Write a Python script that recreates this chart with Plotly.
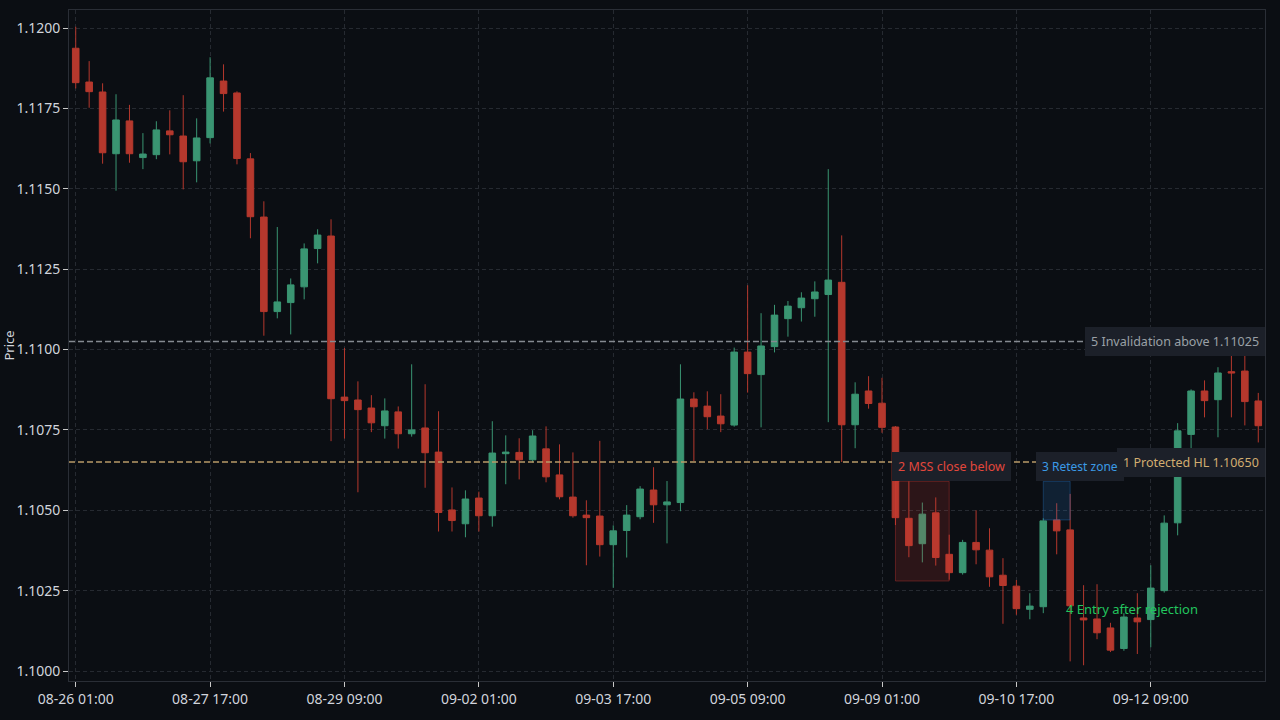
import plotly.graph_objects as go

# ---- data -----------------------------------------------------------------
days = ["08-26", "08-27", "08-28", "08-29", "08-30",
        "09-02", "09-03", "09-04", "09-05", "09-06",
        "09-09", "09-10", "09-11", "09-12", "09-13"]
hours = ["01:00", "05:00", "09:00", "13:00", "17:00", "21:00"]
times = [f"{d} {h}" for d in days for h in hours][:89]

opens = [1.11937, 1.11832, 1.11801, 1.11609, 1.11711, 1.11597, 1.11606, 1.11680, 1.11664, 1.11587,
         1.11659, 1.11835, 1.11798, 1.11593, 1.11412, 1.11118, 1.11146, 1.11195, 1.11314, 1.11353,
         1.10852, 1.10843, 1.10818, 1.10763, 1.10806, 1.10738, 1.10756, 1.10681, 1.10501, 1.10458,
         1.10538, 1.10483, 1.10676, 1.10680, 1.10657, 1.10691, 1.10610, 1.10541, 1.10485, 1.10482,
         1.10393, 1.10437, 1.10480, 1.10563, 1.10517, 1.10524, 1.10846, 1.10824, 1.10793, 1.10765,
         1.10992, 1.10922, 1.11009, 1.11096, 1.11130, 1.11158, 1.11171, 1.11209, 1.10766, 1.10871,
         1.10833, 1.10759, 1.10475, 1.10396, 1.10492, 1.10363, 1.10306, 1.10400, 1.10376, 1.10298,
         1.10264, 1.10192, 1.10200, 1.10470, 1.10439, 1.10165, 1.10162, 1.10134, 1.10070, 1.10165,
         1.10160, 1.10250, 1.10461, 1.10736, 1.10871, 1.10844, 1.10931, 1.10933, 1.10840]
highs = [1.12004, 1.11897, 1.11828, 1.11794, 1.11761, 1.11673, 1.11710, 1.11744, 1.11791, 1.11719,
         1.11909, 1.11887, 1.11803, 1.11611, 1.11461, 1.11381, 1.11221, 1.11330, 1.11374, 1.11405,
         1.11005, 1.10901, 1.10858, 1.10848, 1.10823, 1.10954, 1.10892, 1.10808, 1.10571, 1.10562,
         1.10558, 1.10777, 1.10733, 1.10724, 1.10749, 1.10761, 1.10705, 1.10680, 1.10531, 1.10716,
         1.10453, 1.10516, 1.10575, 1.10634, 1.10591, 1.10954, 1.10867, 1.10870, 1.10861, 1.11006,
         1.11200, 1.11113, 1.11139, 1.11151, 1.11178, 1.11212, 1.11561, 1.11355, 1.10898, 1.10917,
         1.10912, 1.10762, 1.10590, 1.10524, 1.10540, 1.10424, 1.10408, 1.10500, 1.10444, 1.10351,
         1.10283, 1.10242, 1.10475, 1.10522, 1.10551, 1.10267, 1.10270, 1.10150, 1.10180, 1.10242,
         1.10329, 1.10484, 1.10771, 1.10876, 1.10904, 1.10945, 1.11000, 1.10995, 1.10865]
lows = [1.11812, 1.11752, 1.11578, 1.11494, 1.11581, 1.11561, 1.11592, 1.11607, 1.11498, 1.11520,
        1.11641, 1.11740, 1.11576, 1.11346, 1.11043, 1.11097, 1.11047, 1.11156, 1.11268, 1.10715,
        1.10723, 1.10556, 1.10743, 1.10723, 1.10692, 1.10729, 1.10570, 1.10434, 1.10434, 1.10416,
        1.10434, 1.10449, 1.10581, 1.10596, 1.10649, 1.10587, 1.10534, 1.10477, 1.10329, 1.10356,
        1.10259, 1.10353, 1.10472, 1.10461, 1.10397, 1.10497, 1.10653, 1.10752, 1.10743, 1.10760,
        1.10866, 1.10758, 1.10991, 1.11040, 1.11087, 1.11102, 1.10774, 1.10650, 1.10693, 1.10816,
        1.10741, 1.10454, 1.10354, 1.10338, 1.10328, 1.10284, 1.10300, 1.10332, 1.10262, 1.10147,
        1.10175, 1.10161, 1.10180, 1.10363, 1.10030, 1.10018, 1.10099, 1.10059, 1.10063, 1.10053,
        1.10074, 1.10244, 1.10422, 1.10690, 1.10789, 1.10727, 1.10789, 1.10764, 1.10711]
closes = [1.11830, 1.11802, 1.11612, 1.11714, 1.11609, 1.11608, 1.11683, 1.11668, 1.11584, 1.11658,
          1.11845, 1.11796, 1.11594, 1.11413, 1.11118, 1.11148, 1.11201, 1.11313, 1.11356, 1.10847,
          1.10841, 1.10813, 1.10772, 1.10809, 1.10738, 1.10750, 1.10679, 1.10493, 1.10468, 1.10535,
          1.10483, 1.10678, 1.10681, 1.10657, 1.10731, 1.10604, 1.10542, 1.10483, 1.10477, 1.10393,
          1.10436, 1.10485, 1.10566, 1.10517, 1.10526, 1.10846, 1.10822, 1.10791, 1.10769, 1.10992,
          1.10925, 1.11011, 1.11107, 1.11135, 1.11160, 1.11179, 1.11216, 1.10766, 1.10861, 1.10832,
          1.10758, 1.10477, 1.10390, 1.10488, 1.10353, 1.10306, 1.10400, 1.10377, 1.10293, 1.10266,
          1.10194, 1.10202, 1.10467, 1.10436, 1.10203, 1.10159, 1.10119, 1.10065, 1.10168, 1.10153,
          1.10258, 1.10460, 1.10747, 1.10871, 1.10841, 1.10927, 1.10927, 1.10838, 1.10763]

protected_hl = 1.10650
invalidation = 1.11025
mss_zone = (61, 65, 1.1028, 1.1059)      # candle index from/to, price low/high
retest_zone = (72, 74, 1.1047, 1.1059)
entry_point = (76.4, 1.1018)

# ---- style ----------------------------------------------------------------
BG = "#0b0e13"
GRID = "#262a31"
AXLINE = "#2a2e36"
TXT = "#d1d4dc"
GREEN = "#3a9572"
RED = "#b5382d"
FONT = "Noto Sans"

fig = go.Figure(go.Candlestick(
    x=times, open=opens, high=highs, low=lows, close=closes,
    increasing=dict(line=dict(color=GREEN, width=1), fillcolor=GREEN),
    decreasing=dict(line=dict(color=RED, width=1), fillcolor=RED),
    showlegend=False,
))

# level lines
fig.add_shape(type="line", xref="paper", x0=0, x1=1, y0=invalidation, y1=invalidation,
              line=dict(color="#858a91", width=1.6, dash="6px,3px"), layer="above")
fig.add_shape(type="line", xref="paper", x0=0, x1=1, y0=protected_hl, y1=protected_hl,
              line=dict(color="#b99b68", width=1.6, dash="6px,3px"), layer="above")

# zones
fig.add_shape(type="rect", x0=mss_zone[0], x1=mss_zone[1], y0=mss_zone[2], y1=mss_zone[3],
              fillcolor="rgba(220,60,55,0.16)", line=dict(color="rgba(220,60,55,0.35)", width=1),
              layer="above")
fig.add_shape(type="rect", x0=retest_zone[0], x1=retest_zone[1], y0=retest_zone[2], y1=retest_zone[3],
              fillcolor="rgba(40,120,200,0.18)", line=dict(color="rgba(40,120,200,0.35)", width=1),
              layer="above")

BOX = "#1c2029"
afont = dict(family=FONT, size=12.5)
box = dict(bgcolor=BOX, bordercolor=BOX, borderwidth=1, borderpad=5)

fig.add_annotation(xref="paper", x=1, y=protected_hl, xanchor="right", yanchor="middle",
                   text="1 Protected HL 1.10650", showarrow=False,
                   font=dict(afont, color="#d2ad70"), **box)
fig.add_annotation(x=mss_zone[0], y=mss_zone[3], xanchor="left", yanchor="bottom", xshift=-3,
                   text="2 MSS close below", showarrow=False,
                   font=dict(afont, color="#e2473c"), **box)
fig.add_annotation(x=retest_zone[0], y=retest_zone[3], xanchor="left", yanchor="bottom", xshift=-7,
                   text="3 Retest zone", showarrow=False,
                   font=dict(family=FONT, size=12, color="#3b9be6"), **box)
fig.add_annotation(x=entry_point[0], y=entry_point[1], ax=30, ay=-4,
                   text="4 Entry after rejection", showarrow=True,
                   arrowhead=2, arrowsize=1, arrowwidth=2, arrowcolor="#22c55e",
                   font=dict(family=FONT, size=13, color="#22c55e"))
fig.add_annotation(xref="paper", x=1, y=invalidation, xanchor="right", yanchor="middle",
                   text="5 Invalidation above 1.11025", showarrow=False,
                   font=dict(afont, color="#9aa0a6"), **box)

# y-axis title
fig.add_annotation(xref="paper", yref="paper", x=0, y=0.5, xshift=-61, textangle=-90,
                   xanchor="center", yanchor="middle", text="Price", showarrow=False,
                   font=dict(family=FONT, size=13, color=TXT))

fig.update_layout(
    width=1280, height=720,
    margin=dict(l=69, r=15, t=10, b=39),
    paper_bgcolor=BG, plot_bgcolor=BG,
    font=dict(family=FONT, size=14, color=TXT),
    xaxis=dict(
        type="category", rangeslider=dict(visible=False),
        tickvals=times[::10], ticktext=times[::10],
        showgrid=True, gridcolor=GRID, griddash="4px,3px", gridwidth=1,
        ticks="outside", ticklen=5, tickcolor="#c8c8c8",
        showline=True, mirror=True, linecolor=AXLINE, linewidth=1,
        zeroline=False, automargin=False,
    ),
    yaxis=dict(
        range=[1.09969, 1.12056], tick0=1.1, dtick=0.0025, tickformat=".4f",
        showgrid=True, gridcolor=GRID, griddash="4px,3px", gridwidth=1,
        ticks="outside", ticklen=5, tickcolor="#c8c8c8",
        showline=True, mirror=True, linecolor=AXLINE, linewidth=1,
        zeroline=False, automargin=False,
    ),
)

fig.write_html("out.html")
